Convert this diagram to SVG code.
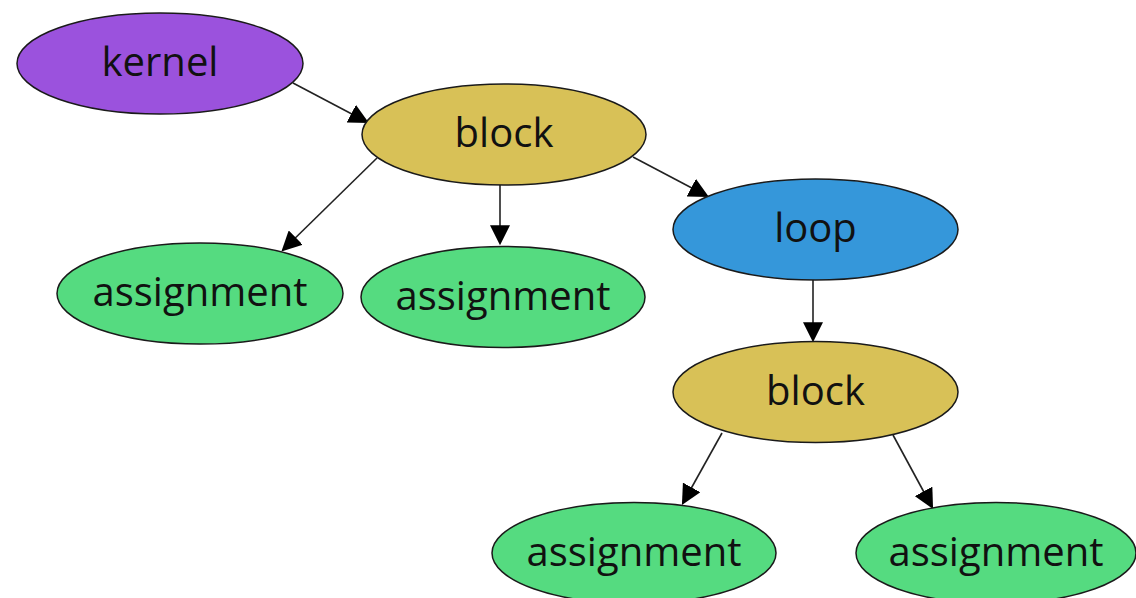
<svg xmlns="http://www.w3.org/2000/svg" width="1136" height="598" viewBox="0 0 1136 598">
<style>
.node ellipse{stroke:#1a1a1a;stroke-width:1.5}
.node text{font-family:"Open Sans","Noto Sans",sans-serif;font-size:40px;fill:#111;text-anchor:middle}
.kernel{fill:#9b52dd}
.block{fill:#d8c157}
.loop{fill:#3597da}
.assign{fill:#55db80}
#edges line{stroke:#222;stroke-width:1.6;marker-end:url(#arrow)}
</style>
<defs>
<marker id="arrow" markerUnits="userSpaceOnUse" markerWidth="20" markerHeight="20" viewBox="0 0 18 18" refX="16" refY="9" orient="auto">
<path d="M0,0 L18,9 L0,18 Z" fill="#000"/>
</marker>
</defs>
<rect width="1136" height="598" fill="#fff"/>
<g id="edges">
<line x1="293" y1="83" x2="367" y2="122"/>
<line x1="377" y1="158" x2="283" y2="250"/>
<line x1="500" y1="185" x2="500" y2="243"/>
<line x1="633" y1="157" x2="707" y2="196"/>
<line x1="813" y1="280" x2="813" y2="340"/>
<line x1="722" y1="433" x2="683" y2="503"/>
<line x1="893" y1="435" x2="932" y2="507"/>
</g>
<g id="kernel" class="node"><ellipse class="kernel" cx="160" cy="63.5" rx="143" ry="50.5"/><text x="160" y="76">kernel</text></g>
<g id="block1" class="node"><ellipse class="block" cx="504" cy="134.5" rx="142" ry="50.5"/><text x="504" y="147">block</text></g>
<g id="assignment1" class="node"><ellipse class="assign" cx="200" cy="293.5" rx="143" ry="50.5"/><text x="200" y="306">assignment</text></g>
<g id="assignment2" class="node"><ellipse class="assign" cx="503" cy="297" rx="142" ry="50.5"/><text x="503" y="310">assignment</text></g>
<g id="loop" class="node"><ellipse class="loop" cx="815.5" cy="229.5" rx="142.5" ry="50.5"/><text x="815.5" y="242">loop</text></g>
<g id="block2" class="node"><ellipse class="block" cx="815.5" cy="392" rx="142.5" ry="50.5"/><text x="815.5" y="404.5">block</text></g>
<g id="assignment3" class="node"><ellipse class="assign" cx="634" cy="553" rx="142" ry="50.5"/><text x="634" y="565.5">assignment</text></g>
<g id="assignment4" class="node"><ellipse class="assign" cx="996" cy="553" rx="140" ry="50.5"/><text x="996" y="565.5">assignment</text></g>
</svg>
